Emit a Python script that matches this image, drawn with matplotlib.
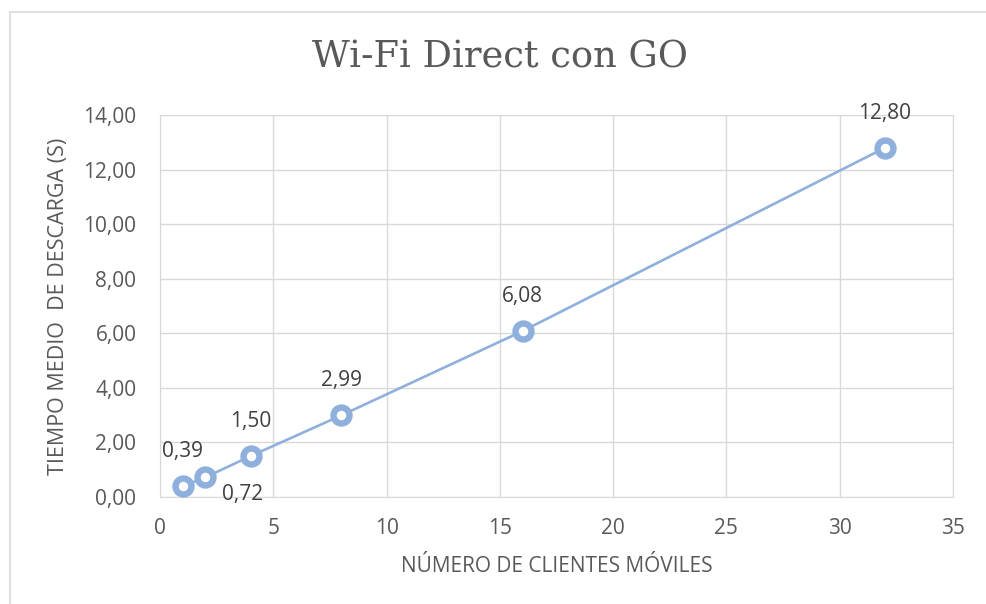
import matplotlib.pyplot as plt
from matplotlib.patches import Rectangle
from matplotlib.ticker import FuncFormatter

# Datos
clientes = [1, 2, 4, 8, 16, 32]
tiempo_medio = [0.39, 0.72, 1.50, 2.99, 6.08, 12.80]
# posición de cada etiqueta: arriba o abajo-derecha
posicion_etiqueta = ['arriba', 'abajo', 'arriba', 'arriba', 'arriba', 'arriba']

azul = '#8fb0dc'
gris_texto = '#595959'
gris_rejilla = '#d9d9d9'

plt.rcParams['font.family'] = ['Open Sans', 'DejaVu Sans']

fig = plt.figure(figsize=(9.86, 6.04), dpi=100)
ax = fig.add_axes([160 / 986, 1 - 497 / 604, (953 - 160) / 986, (497 - 115) / 604])

# marco del gráfico
fig.patches.append(Rectangle((10 / 986, -0.05), 1.1, 1.05 - 12 / 604,
                             transform=fig.transFigure, fill=False,
                             edgecolor='#d9d9d9', linewidth=1.2))

ax.plot(clientes, tiempo_medio, color=azul, linewidth=1.9, marker='o',
        markersize=11.5, markerfacecolor='white', markeredgecolor=azul,
        markeredgewidth=4.6, zorder=3, clip_on=False)

for x, y, pos in zip(clientes, tiempo_medio, posicion_etiqueta):
    texto = f'{y:.2f}'.replace('.', ',')
    if pos == 'arriba':
        desp = (0, 25)
    else:
        desp = (27, -12)
    ax.annotate(texto, (x, y), xytext=desp, textcoords='offset points',
                ha='center', va='center', fontsize=15, color='#404040')

ax.set_xlim(0, 35)
ax.set_ylim(0, 14)
ax.set_xticks(range(0, 36, 5))
ax.set_yticks(range(0, 15, 2))
ax.yaxis.set_major_formatter(FuncFormatter(lambda v, p: f'{v:.2f}'.replace('.', ',')))
ax.grid(True, color=gris_rejilla, linewidth=1)
ax.set_axisbelow(True)
for lado in ax.spines.values():
    lado.set_color(gris_rejilla)
ax.tick_params(length=0, labelsize=15, labelcolor=gris_texto)
ax.tick_params(axis='x', pad=15)
ax.tick_params(axis='y', pad=17)

ax.set_xlabel('NÚMERO DE CLIENTES MÓVILES', fontsize=15, color=gris_texto, labelpad=12)
ax.set_ylabel('TIEMPO MEDIO  DE DESCARGA (S)', fontsize=15.5, color=gris_texto, labelpad=10)
fig.text(500 / 986, 1 - 68 / 604, 'Wi-Fi Direct con GO', ha='center', va='baseline',
         fontsize=26.5, color=gris_texto, family=['DejaVu Serif'])

fig.savefig('out.png', dpi=100)
